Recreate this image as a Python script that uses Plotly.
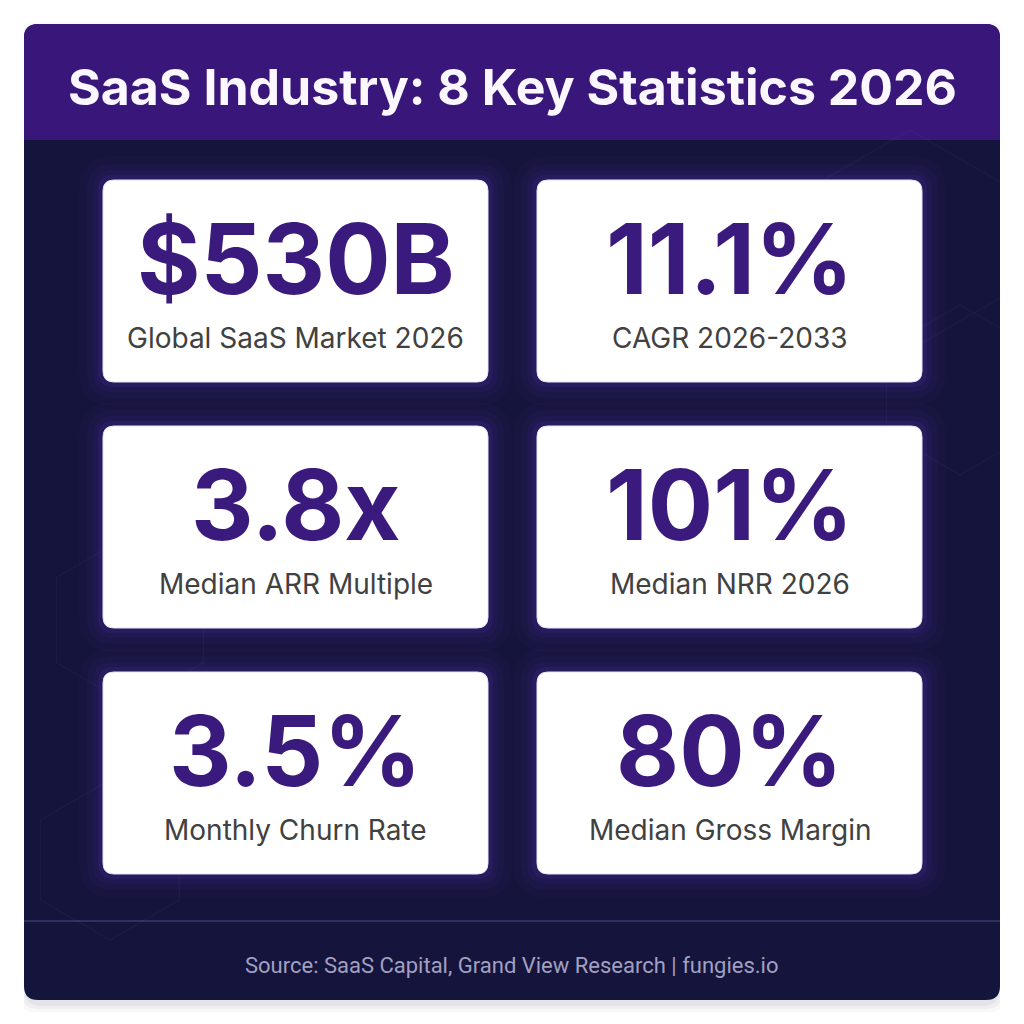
import plotly.graph_objects as go

TITLE = "SaaS Industry: 8 Key Statistics 2026"
stat_values = ["$530B", "11.1%", "3.8x", "101%", "3.5%", "80%"]
stat_labels = [
    "Global SaaS Market 2026",
    "CAGR 2026-2033",
    "Median ARR Multiple",
    "Median NRR 2026",
    "Monthly Churn Rate",
    "Median Gross Margin",
]
SOURCE = "Source: SaaS Capital, Grand View Research | fungies.io"

W = H = 1024
OFFSET = 8  # page body margin in the browser
PANEL = (24, 24, 1000, 1000)
HEADER_BOTTOM = 140
CARD_W, CARD_H = 385, 202
CARD_X = [103, 537]
CARD_Y0, CARD_GAP = 180, 44

HEADER_COLOR = "#38167a"
BODY_COLOR = "#15143c"
NUMBER_COLOR = "#3b1a7e"
LABEL_COLOR = "#414141"


def rounded_rect(x0, y0, x1, y1, r, top=True, bottom=True):
    rt = r if top else 0
    rb = r if bottom else 0
    p = f"M {x0 + rt},{y0} L {x1 - rt},{y0} "
    p += f"Q {x1},{y0} {x1},{y0 + rt} " if rt else ""
    p += f"L {x1},{y1 - rb} "
    p += f"Q {x1},{y1} {x1 - rb},{y1} " if rb else ""
    p += f"L {x0 + rb},{y1} "
    p += f"Q {x0},{y1} {x0},{y1 - rb} " if rb else ""
    p += f"L {x0},{y0 + rt} "
    p += f"Q {x0},{y0} {x0 + rt},{y0} " if rt else ""
    return p + "Z"


def hexagon(cx, cy, r):
    pts = [(cx + r * 0.866 * dx, cy + r * dy) for dx, dy in
           [(0, -1), (1, -0.5), (1, 0.5), (0, 1), (-1, 0.5), (-1, -0.5)]]
    return "M " + " L ".join(f"{x},{y}" for x, y in pts) + " Z"


shapes = []
annotations = []

# soft shadow around the panel
for i, op in enumerate([0.03, 0.04, 0.05]):
    g = 8 - i * 3
    shapes.append(dict(type="path", path=rounded_rect(PANEL[0] - g + 2, PANEL[1] - g + 6,
                                                      PANEL[2] + g - 2, PANEL[3] + g + 4, 18),
                       fillcolor=f"rgba(30,30,60,{op})", line=dict(width=0), layer="below"))

# panel body and header
shapes.append(dict(type="path", path=rounded_rect(*PANEL, 14), fillcolor=BODY_COLOR,
                   line=dict(width=0), layer="below"))
shapes.append(dict(type="path", path=rounded_rect(PANEL[0], PANEL[1], PANEL[2], HEADER_BOTTOM, 14, bottom=False),
                   fillcolor=HEADER_COLOR, line=dict(width=0), layer="below"))

# faint hexagon decoration (kept inside the panel)
for cx, cy, r in [(910, 240, 110), (960, 390, 85), (130, 620, 85), (110, 860, 80)]:
    shapes.append(dict(type="path", path=hexagon(cx, cy, r), fillcolor="rgba(0,0,0,0)",
                       line=dict(color="rgba(120,110,190,0.10)", width=1), layer="below"))
# cover hexagon parts outside the panel with white
shapes.append(dict(type="rect", x0=-10, x1=PANEL[0], y0=-10, y1=H + 20, fillcolor="#ffffff",
                   line=dict(width=0), layer="below"))
shapes.append(dict(type="rect", x0=PANEL[2], x1=W + 20, y0=-10, y1=H + 20, fillcolor="#ffffff",
                   line=dict(width=0), layer="below"))

# footer divider
shapes.append(dict(type="line", x0=PANEL[0], x1=PANEL[2], y0=921, y1=921,
                   line=dict(color="rgba(110,100,170,0.45)", width=1.5), layer="below"))

# title
annotations.append(dict(x=512, y=87, text=f"<b>{TITLE}</b>", showarrow=False,
                        font=dict(family="Inter", size=50, color="#fbf7ff"),
                        xanchor="center", yanchor="middle"))

for i, (val, lab) in enumerate(zip(stat_values, stat_labels)):
    row, col = divmod(i, 2)
    x0 = CARD_X[col]
    y0 = CARD_Y0 + row * (CARD_H + CARD_GAP)
    x1, y1 = x0 + CARD_W, y0 + CARD_H
    # glow
    for g, op in [(24, 0.04), (16, 0.06), (10, 0.09), (5, 0.12)]:
        shapes.append(dict(type="path", path=rounded_rect(x0 - g, y0 - g, x1 + g, y1 + g, 10 + g),
                           fillcolor=f"rgba(90,60,190,{op})", line=dict(width=0), layer="below"))
    shapes.append(dict(type="path", path=rounded_rect(x0, y0, x1, y1, 11),
                       fillcolor="#ffffff", line=dict(color="#e6e2f5", width=1), layer="below"))
    cx = (x0 + x1) / 2
    annotations.append(dict(x=cx, y=y0 + 78, text=f"<b>{val}</b>", showarrow=False,
                            font=dict(family="Inter", size=97, color=NUMBER_COLOR),
                            xanchor="center", yanchor="middle"))
    annotations.append(dict(x=cx, y=y0 + 158, text=lab, showarrow=False,
                            font=dict(family="Inter", size=28, color=LABEL_COLOR),
                            xanchor="center", yanchor="middle"))

annotations.append(dict(x=512, y=965, text=SOURCE, showarrow=False,
                        font=dict(family="Roboto", size=22, color="#a2a0c0"),
                        xanchor="center", yanchor="middle"))

fig = go.Figure()
fig.update_layout(
    width=W, height=H,
    margin=dict(l=0, r=0, t=0, b=0),
    paper_bgcolor="#ffffff",
    plot_bgcolor="#ffffff",
    xaxis=dict(range=[OFFSET, W + OFFSET], visible=False, fixedrange=True),
    yaxis=dict(range=[H + OFFSET, OFFSET], visible=False, fixedrange=True),
    shapes=shapes,
    annotations=annotations,
    showlegend=False,
)
fig.write_html("out.html")
